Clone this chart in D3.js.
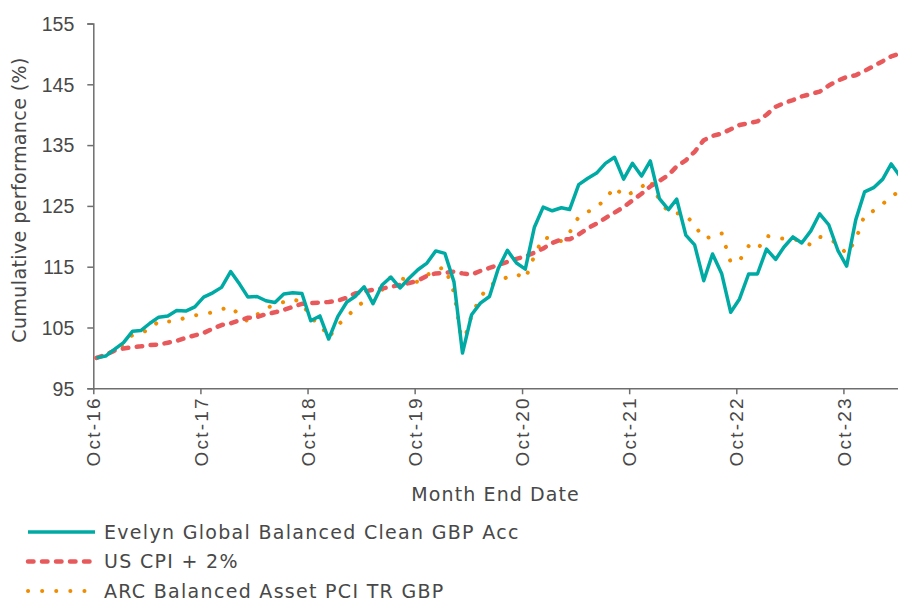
<!DOCTYPE html>
<html>
<head>
<meta charset="utf-8">
<script src="https://cdn.jsdelivr.net/npm/d3@7"></script>
<style>
  body { margin: 0; background: #fff; overflow: hidden; }
  svg { display: block; font-family: "DejaVu Sans", sans-serif; }
</style>
</head>
<body>
<svg id="chart" width="898" height="601"></svg>
<script>
// monthly series, Oct-16 .. Apr-24
const evelyn = [100.0, 100.3, 101.4, 102.5, 104.4, 104.5, 105.7, 106.7, 106.9, 107.8, 107.7, 108.4,
  110.0, 110.7, 111.6, 114.2, 112.1, 110.0, 110.1, 109.4, 109.1, 110.5, 110.7, 110.6,
  106.1, 106.9, 103.1, 106.8, 109.2, 110.1, 111.7, 108.9, 112.0, 113.3, 111.5, 113.1,
  114.5, 115.6, 117.6, 117.2, 112.5, 100.8, 107.1, 109.0, 110.1, 114.7, 117.7, 115.6,
  114.6, 121.5, 124.8, 124.2, 124.7, 124.4, 128.5, 129.5, 130.4, 132.0, 133.0, 129.4,
  132.0, 129.9, 132.4, 126.2, 124.4, 126.1, 120.2, 118.6, 112.7, 117.1, 113.9, 107.5,
  109.7, 113.8, 113.8, 117.9, 116.2, 118.2, 119.9, 118.9, 120.9, 123.7, 121.9, 117.7,
  115.1, 122.7, 127.3, 128.0, 129.4, 131.9, 129.8];

const usCpi = [100.0, 100.5, 101.2, 101.55, 101.75, 101.9, 102.1, 102.2, 102.5, 102.8, 103.3, 103.7,
  104.1, 104.8, 105.4, 105.7, 106.2, 106.6, 106.7, 107.2, 107.5, 107.9, 108.4, 108.9,
  109.0, 109.1, 109.2, 109.4, 109.9, 110.6, 110.9, 111.2, 111.4, 111.7, 112.0, 112.3,
  112.7, 113.5, 113.9, 114.0, 114.2, 113.9, 113.7, 114.3, 114.8, 115.3, 115.8, 116.3,
  116.7, 117.3, 118.0, 118.9, 119.5, 119.5, 120.3, 121.3, 122.1, 123.0, 123.9, 124.8,
  125.9, 127.0, 128.2, 129.1, 130.1, 131.5, 132.5, 133.9, 135.8, 136.5, 136.9, 137.6,
  138.3, 138.6, 138.9, 140.0, 141.3, 141.9, 142.4, 143.0, 143.4, 143.8, 144.8, 145.6,
  146.2, 146.5, 147.2, 148.0, 148.8, 149.6, 150.1];

const arc = [100.0, 100.5, 101.3, 102.2, 103.8, 104.2, 104.6, 106.1, 106.0, 106.0, 106.7, 107.0,
  107.2, 107.5, 108.0, 108.4, 107.0, 106.0, 107.1, 108.2, 108.7, 109.2, 109.7, 109.1,
  106.5, 105.6, 103.3, 105.4, 106.7, 108.2, 109.3, 109.2, 111.2, 113.4, 113.1, 112.8,
  112.5, 113.6, 114.5, 114.9, 110.8, 102.0, 107.0, 110.0, 111.9, 112.6, 113.3, 113.8,
  113.0, 116.8, 119.8, 119.6, 119.2, 120.6, 123.2, 124.0, 124.8, 126.1, 128.1, 126.6,
  127.2, 128.1, 129.3, 125.9, 124.0, 123.8, 123.5, 121.8, 119.7, 119.9, 120.5, 115.7,
  116.0, 118.4, 117.8, 120.1, 119.7, 119.6, 119.6, 119.1, 118.6, 119.9, 119.6, 118.7,
  117.1, 119.4, 123.5, 124.2, 125.3, 126.6, 127.4];

const seriesNames = ["Evelyn Global Balanced Clean GBP Acc", "US CPI + 2%", "ARC Balanced Asset PCI TR GBP"];
const yTicks = [95, 105, 115, 125, 135, 145, 155];
const tickYears = [2016, 2017, 2018, 2019, 2020, 2021, 2022, 2023];

const firstMonth = new Date(2016, 9, 12);
const months = evelyn.map((d, i) => d3.timeMonth.offset(firstMonth, i));

const plotLeft = 93.3, plotRight = 898, plotTop = 23.5, plotBottom = 388.3;
const textColor = "#484848", axisColor = "#6e6e6e";

const svg = d3.select("#chart");

const x = d3.scaleTime()
    .domain([new Date(2016, 9, 1), new Date(2024, 3, 4)])
    .range([plotLeft, plotRight]);
const y = d3.scaleLinear().domain([95, 155]).range([plotBottom, plotTop]);

// y axis
const yAxis = svg.append("g")
    .attr("transform", `translate(${plotLeft},0)`)
    .call(d3.axisLeft(y).tickValues(yTicks).tickSize(6).tickPadding(13));
yAxis.select(".domain").attr("stroke", axisColor).attr("stroke-width", 1.5);
yAxis.selectAll(".tick line").attr("stroke", axisColor).attr("stroke-width", 1.5);
yAxis.selectAll(".tick text").attr("fill", textColor)
    .style("font-size", "19.5px").attr("dy", "0.35em");

// x axis
const xAxis = svg.append("g")
    .attr("transform", `translate(0,${plotBottom})`)
    .call(d3.axisBottom(x)
        .tickValues(tickYears.map(yr => new Date(yr, 9, 1)))
        .tickFormat(d3.timeFormat("%b-%y"))
        .tickSize(6).tickSizeOuter(0));
xAxis.select(".domain").attr("stroke", axisColor).attr("stroke-width", 1.5);
xAxis.selectAll(".tick line").attr("stroke", axisColor).attr("stroke-width", 1.5);
xAxis.selectAll(".tick text")
    .attr("fill", textColor)
    .style("font-size", "19px")
    .style("letter-spacing", "2.2px")
    .attr("text-anchor", "end")
    .attr("transform", "rotate(-90)")
    .attr("x", -8)
    .attr("y", 0)
    .attr("dy", "0.35em");

// axis titles
svg.append("text")
    .attr("transform", "translate(26,200) rotate(-90)")
    .attr("text-anchor", "middle")
    .attr("fill", textColor)
    .style("font-size", "19px")
    .style("letter-spacing", "0.4px")
    .text("Cumulative performance (%)");

svg.append("text")
    .attr("x", (plotLeft + plotRight) / 2)
    .attr("y", 501)
    .attr("text-anchor", "middle")
    .attr("fill", textColor)
    .style("font-size", "19px")
    .style("letter-spacing", "1.1px")
    .text("Month End Date");

// lines
const styles = [
    {data: evelyn, color: "#00aaa4", width: 3.5, dash: null},
    {data: usCpi, color: "#e8595b", width: 4.5, dash: "5.5 8.5"},
    {data: arc, color: "#f08c00", width: 4, dash: "0.1 14"}
];

const line = d3.line()
    .x((d, i) => x(months[i]))
    .y(d => y(d));

// draw ARC first, CPI, then Evelyn on top
[2, 1, 0].forEach(k => {
    const s = styles[k];
    svg.append("path")
        .datum(s.data)
        .attr("fill", "none")
        .attr("stroke", s.color)
        .attr("stroke-width", s.width)
        .attr("stroke-linejoin", "round")
        .attr("stroke-linecap", s.dash ? "round" : "butt")
        .attr("stroke-dasharray", s.dash)
        .attr("d", line);
});

// legend
const legend = svg.append("g");
seriesNames.forEach((name, k) => {
    const s = styles[k];
    const ly = 532 + k * 29.5;
    legend.append("line")
        .attr("x1", 28).attr("x2", 95)
        .attr("y1", ly).attr("y2", ly)
        .attr("stroke", s.color)
        .attr("stroke-width", s.width)
        .attr("stroke-linecap", s.dash ? "round" : "butt")
        .attr("stroke-dasharray", s.dash);
    legend.append("text")
        .attr("x", 104).attr("y", ly)
        .attr("dy", "0.35em")
        .attr("fill", textColor)
        .style("font-size", "19px")
        .style("letter-spacing", "1.3px")
        .text(name);
});
</script>
</body>
</html>
